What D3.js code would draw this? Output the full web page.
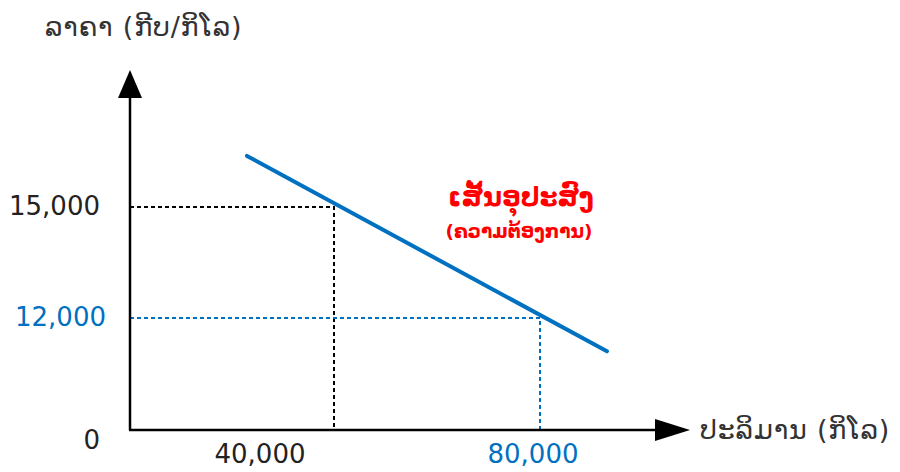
<!DOCTYPE html>
<html>
<head>
<meta charset="utf-8">
<script src="https://cdn.jsdelivr.net/npm/d3@7"></script>
<style>
  body { margin: 0; background: #fff; }
  text { font-family: "DejaVu Sans", sans-serif; }
</style>
</head>
<body>
<div id="chart"></div>
<script>
// demand line end points (quantity, price)
var lineQty = [23100, 93000];
var linePrice = [16380, 11100];

// marked points
var markQty = [40000, 80000];
var markPrice = [15000, 12000];
var markColor = ["#000000", "#0070C0"];
var qtyLabels = ["40,000", "80,000"];
var priceLabels = ["15,000", "12,000"];

var svgWidth = 900, svgHeight = 472;
var x0 = 130, y0 = 430;

var svg = d3.select("#chart")
  .append("svg")
    .attr("width", svgWidth)
    .attr("height", svgHeight);

var x = d3.scaleLinear().domain([40000, 80000]).range([334, 540]);
// price axis is schematic: only the two marked prices are to scale
var y = d3.scaleLinear().domain([12000, 15000]).range([318, 207]);

// guide lines
markQty.forEach(function(q, i) {
  var p = markPrice[i];
  svg.append("path")
    .attr("d", "M" + x0 + "," + y(p) + "H" + x(q) + "V" + y0)
    .attr("fill", "none")
    .attr("stroke", markColor[i])
    .attr("stroke-width", 2)
    .attr("stroke-dasharray", "4,3");
});

// axes
svg.append("line")
  .attr("x1", x0).attr("y1", y0).attr("x2", x0).attr("y2", 95)
  .attr("stroke", "#000").attr("stroke-width", 2.5);
svg.append("path")
  .attr("d", "M" + x0 + ",70 L" + (x0 - 12) + ",98 L" + (x0 + 12) + ",98 Z")
  .attr("fill", "#000");
svg.append("line")
  .attr("x1", x0 - 1).attr("y1", y0).attr("x2", 660).attr("y2", y0)
  .attr("stroke", "#000").attr("stroke-width", 2.5);
svg.append("path")
  .attr("d", "M690," + y0 + " L655," + (y0 - 11) + " L655," + (y0 + 11) + " Z")
  .attr("fill", "#000");

// demand line
svg.append("line")
  .attr("x1", x(lineQty[0])).attr("y1", y(linePrice[0]))
  .attr("x2", x(lineQty[1])).attr("y2", y(linePrice[1]))
  .attr("stroke", "#0070C0")
  .attr("stroke-width", 4)
  .attr("stroke-linecap", "round");

// tick labels
svg.selectAll(".plab")
  .data(priceLabels)
  .enter()
  .append("text")
  .attr("x", function(d, i) { return i == 0 ? 100 : 106; })
  .attr("y", function(d, i) { return y(markPrice[i]) + 8; })
  .attr("text-anchor", "end")
  .attr("font-size", 26)
  .attr("fill", function(d, i) { return markColor[i] == "#000000" ? "#222" : markColor[i]; })
  .text(function(d) { return d; });

svg.selectAll(".qlab")
  .data(qtyLabels)
  .enter()
  .append("text")
  .attr("x", function(d, i) { return i == 0 ? 260 : 533; })
  .attr("y", 463)
  .attr("text-anchor", "middle")
  .attr("font-size", 26)
  .attr("fill", function(d, i) { return markColor[i] == "#000000" ? "#222" : markColor[i]; })
  .text(function(d) { return d; });

svg.append("text")
  .attr("x", 100).attr("y", 449)
  .attr("text-anchor", "end")
  .attr("font-size", 26)
  .attr("fill", "#222")
  .text("0");

// axis titles
svg.append("text")
  .attr("x", 45).attr("y", 36)
  .attr("font-size", 27)
  .attr("letter-spacing", 0.8)
  .attr("fill", "#333")
  .text("ລາຄາ (ກີບ/ກິໂລ)");

svg.append("text")
  .attr("x", 700).attr("y", 439)
  .attr("font-size", 27)
  .attr("letter-spacing", 0.8)
  .attr("fill", "#333")
  .text("ປະລິມານ (ກິໂລ)");

// curve label
svg.append("text")
  .attr("x", 521).attr("y", 206)
  .attr("text-anchor", "middle")
  .attr("font-size", 26)
  .attr("font-weight", "bold")
  .attr("fill", "#FF0000")
  .text("ເສັ້ນອຸປະສົງ");

svg.append("text")
  .attr("x", 519).attr("y", 238)
  .attr("text-anchor", "middle")
  .attr("font-size", 18.5)
  .attr("font-weight", "bold")
  .attr("fill", "#FF0000")
  .text("(ຄວາມຕ້ອງການ)");
</script>
</body>
</html>
